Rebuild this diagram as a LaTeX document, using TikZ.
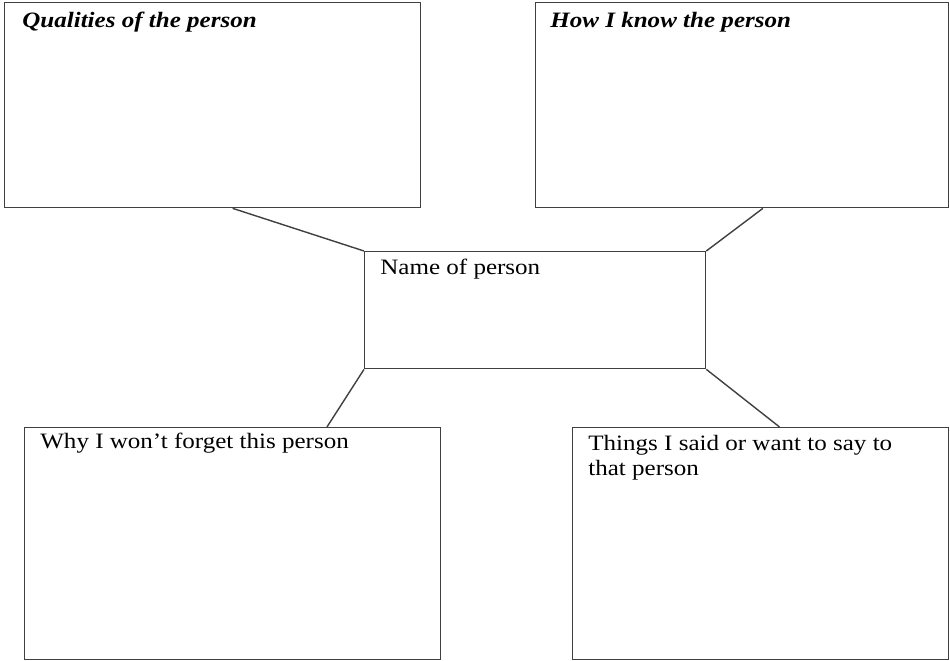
\documentclass[tikz,border=0pt]{standalone}
\usepackage{fontspec}
\setmainfont{Liberation Serif}[FakeStretch=1.14]
\usepackage{tikz}
\usetikzlibrary{calc}

\tikzset{
  box/.style={draw=black!75,line width=0.8pt,anchor=north west,inner sep=0pt},
  lbl/.style={anchor=north west,inner sep=0pt,align=left,font=\fontsize{12.5}{14.2}\selectfont},
  ttl/.style={lbl,font=\fontsize{12.5}{14.2}\selectfont\bfseries\itshape},
  link/.style={draw=black!75,line width=0.8pt}
}

\begin{document}
\begin{tikzpicture}[x=0.02cm,y=-0.02cm]
    \useasboundingbox (0,0) rectangle (950,661);
    % the five boxes
    \node (qual) [box,minimum width=8.32cm,minimum height=4.1cm] at (4,2) {};
    \node (know) [box,minimum width=8.26cm,minimum height=4.1cm] at (535,2) {};
    \node (name) [box,minimum width=6.82cm,minimum height=2.34cm] at (364,251) {};
    \node (why) [box,minimum width=8.32cm,minimum height=4.64cm] at (24,427) {};
    \node (said) [box,minimum width=7.52cm,minimum height=4.64cm] at (572,427) {};
    % their texts
    \node (qualtext) [ttl] at ($(qual.north west)+(18,10)$) {Qualities of the person};
    \node (knowtext) [ttl] at ($(know.north west)+(15,10)$) {How I know the person};
    \node (nametext) [lbl] at ($(name.north west)+(16,8)$) {Name of person};
    \node (whytext) [lbl] at ($(why.north west)+(16,6)$) {Why I won't forget this person};
    \node (saidtext) [lbl] at ($(said.north west)+(16,8)$) {Things I said or want to say to\\that person};
    % links to the middle box
    \draw[link] ($(qual.south west)!0.548!(qual.south east)$) -- (name.north west);
    \draw[link] ($(know.south west)!0.55!(know.south east)$) -- (name.north east);
    \draw[link] (name.south west) -- ($(why.north west)!0.726!(why.north east)$);
    \draw[link] (name.south east) -- ($(said.north west)!0.55!(said.north east)$);
\end{tikzpicture}
\end{document}
